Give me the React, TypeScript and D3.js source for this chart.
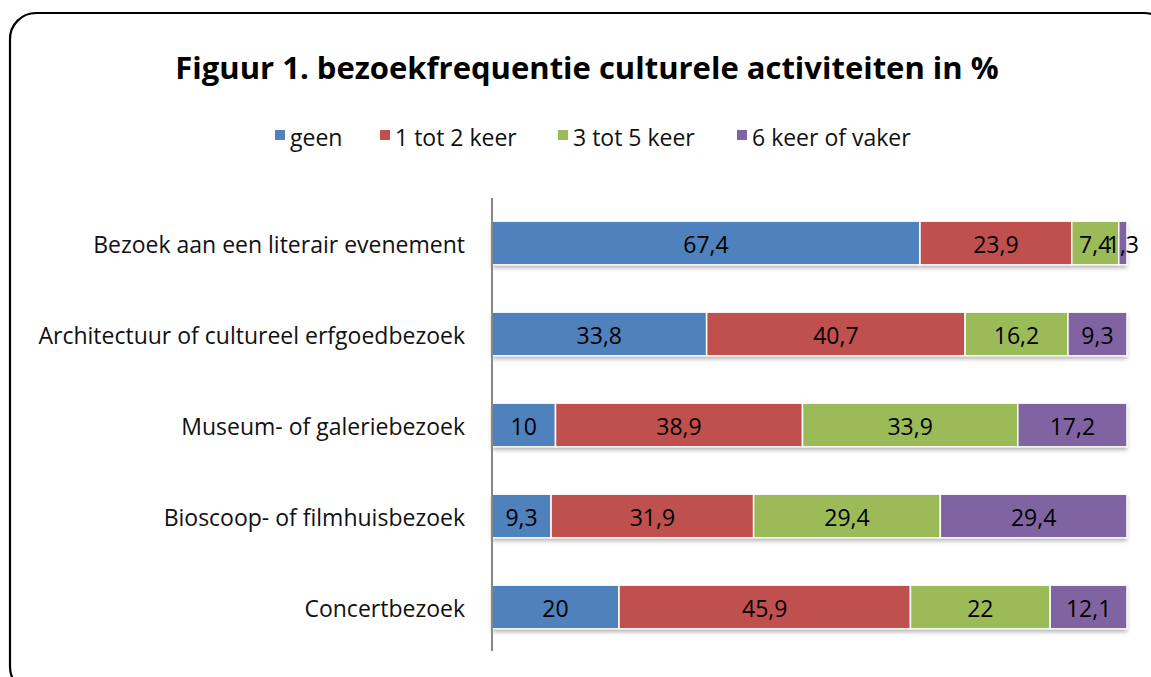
import React, { useEffect, useRef } from 'react';
import * as d3 from 'd3';

const categories = [
  'Bezoek aan een literair evenement',
  'Architectuur of cultureel erfgoedbezoek',
  'Museum- of galeriebezoek',
  'Bioscoop- of filmhuisbezoek',
  'Concertbezoek',
];
const seriesNames = ['geen', '1 tot 2 keer', '3 tot 5 keer', '6 keer of vaker'];
const geen = [67.4, 33.8, 10, 9.3, 20];
const eenTotTwee = [23.9, 40.7, 38.9, 31.9, 45.9];
const drieTotVijf = [7.4, 16.2, 33.9, 29.4, 22];
const zesOfVaker = [1.3, 9.3, 17.2, 29.4, 12.1];
const colors = ['#4F81BD', '#C0504D', '#9BBB59', '#8064A2'];

const W = 1151;
const H = 677;
const FONT = '"Open Sans", Lato, sans-serif';

export default function App() {
  const ref = useRef<SVGSVGElement>(null);

  useEffect(() => {
    const svg = d3.select(ref.current);
    svg.selectAll('*').remove();

    const defs = svg.append('defs');
    const f = defs.append('filter').attr('id', 'shadow').attr('x', '-5%').attr('y', '-20%').attr('width', '110%').attr('height', '160%');
    f.append('feDropShadow').attr('dx', 0).attr('dy', 3).attr('stdDeviation', 2).attr('flood-color', '#000').attr('flood-opacity', 0.3);

    svg.append('rect').attr('width', W).attr('height', H).attr('fill', 'white');

    // frame
    svg.append('rect')
      .attr('x', 10).attr('y', 13)
      .attr('width', 1160).attr('height', 680)
      .attr('rx', 26).attr('ry', 26)
      .attr('fill', 'none').attr('stroke', '#000').attr('stroke-width', 2.2);

    svg.append('text')
      .attr('x', 587).attr('y', 79)
      .attr('text-anchor', 'middle')
      .style('font-family', FONT).style('font-weight', 'bold').style('font-size', '31px')
      .attr('fill', '#000')
      .text('Figuur 1. bezoekfrequentie culturele activiteiten in %');

    // legend
    const legendX = [275, 380, 558, 737];
    const lg = svg.append('g');
    seriesNames.forEach((name, i) => {
      lg.append('rect').attr('x', legendX[i]).attr('y', 130).attr('width', 10).attr('height', 10).attr('fill', colors[i]);
      lg.append('text').attr('x', legendX[i] + 15).attr('y', 146)
        .style('font-family', FONT).style('font-size', '23px').attr('fill', '#111')
        .text(name);
    });

    const x = d3.scaleLinear().domain([0, 100]).range([492, 1127]);
    const y = d3.scaleBand<string>().domain(categories).range([197.5, 652.5]).paddingInner(0.52).paddingOuter(0.26);

    const rows = categories.map((c, i) => ({ cat: c, geen: geen[i], een: eenTotTwee[i], drie: drieTotVijf[i], zes: zesOfVaker[i] }));
    const keys = ['geen', 'een', 'drie', 'zes'];
    const stacked = d3.stack<any>().keys(keys)(rows);

    // shadows under each bar
    svg.append('g').selectAll('rect').data(rows).join('rect')
      .attr('x', x(0)).attr('y', d => y(d.cat)!)
      .attr('width', x(100) - x(0)).attr('height', y.bandwidth())
      .attr('fill', '#fff').attr('filter', 'url(#shadow)');

    stacked.forEach((layer, li) => {
      const g = svg.append('g');
      g.selectAll('rect').data(layer).join('rect')
        .attr('x', d => x(d[0]))
        .attr('y', d => y(d.data.cat)!)
        .attr('width', d => x(d[1]) - x(d[0]))
        .attr('height', y.bandwidth())
        .attr('fill', colors[li])
        .attr('stroke', '#fff').attr('stroke-width', 1.5);
      g.selectAll('text').data(layer).join('text')
        .attr('x', d => (x(d[0]) + x(d[1])) / 2)
        .attr('y', d => y(d.data.cat)! + y.bandwidth() / 2 + 10)
        .attr('text-anchor', 'middle')
        .style('font-family', FONT).style('font-size', '23px').attr('fill', '#000')
        .text(d => String(d.data[keys[li]]).replace('.', ','));
    });

    // category labels
    svg.append('g').selectAll('text').data(categories).join('text')
      .attr('x', 465).attr('y', d => y(d)! + y.bandwidth() / 2 + 10)
      .attr('text-anchor', 'end')
      .style('font-family', FONT).style('font-size', '23px').attr('fill', '#111')
      .text(d => d);

    // axis line
    svg.append('line').attr('x1', 492).attr('x2', 492).attr('y1', 198).attr('y2', 651)
      .attr('stroke', '#888').attr('stroke-width', 2);
  }, []);

  return <svg ref={ref} width={W} height={H} style={{ position: 'absolute', left: 0, top: 0 }} />;
}
